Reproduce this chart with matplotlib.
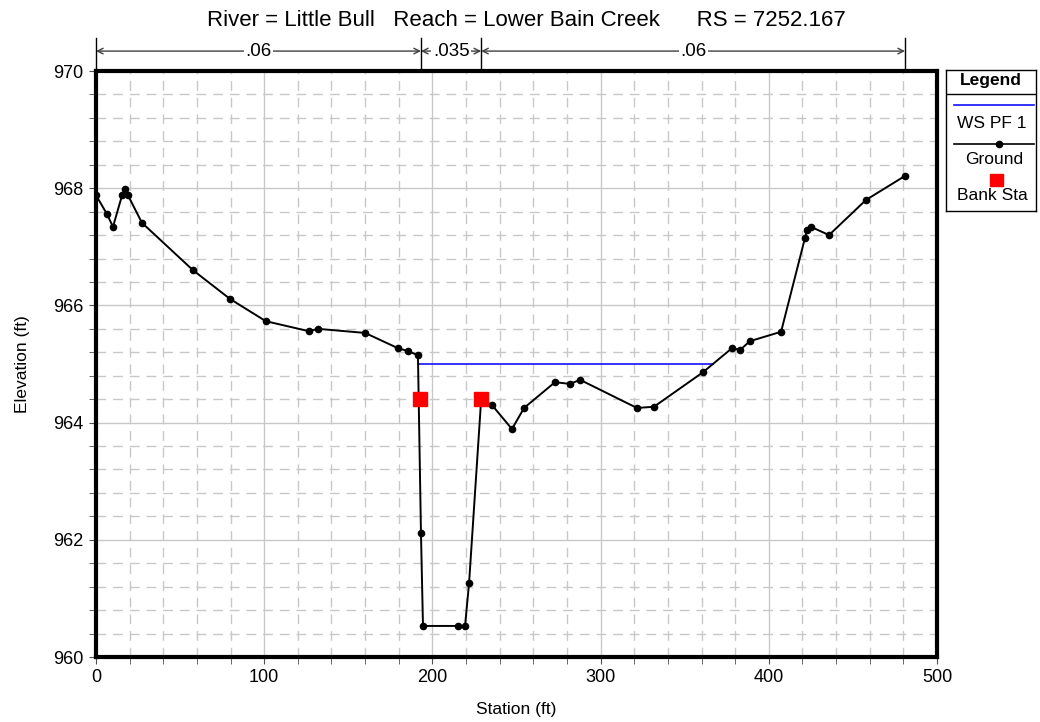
import matplotlib
matplotlib.use("Agg")
import matplotlib.pyplot as plt
from matplotlib.patches import Rectangle
from matplotlib.ticker import MultipleLocator
import matplotlib.transforms as mtransforms

plt.rcParams['font.family'] = ['Liberation Sans', 'DejaVu Sans']

# ground profile (station ft, elevation ft)
station = [0, 6.5, 10.1, 15.5, 17.2, 19, 27.3, 57.7, 79.7, 101, 126.6, 132, 160,
           179.5, 185.5, 191.4, 193.2, 194.4, 215.2, 219.4, 221.8, 229, 235.4,
           247.3, 254.5, 272.9, 281.8, 287.8, 321.6, 331.7, 360.9, 378.1, 382.9,
           388.8, 407.3, 421.5, 422.7, 425.1, 435.8, 457.8, 481]
elevation = [967.88, 967.56, 967.34, 967.88, 967.99, 967.88, 967.41, 966.60, 966.11,
             965.73, 965.56, 965.60, 965.53, 965.27, 965.22, 965.15, 962.12, 960.53,
             960.53, 960.53, 961.26, 964.40, 964.30, 963.89, 964.25, 964.69, 964.66,
             964.73, 964.25, 964.27, 964.86, 965.27, 965.24, 965.39, 965.55, 967.15,
             967.29, 967.34, 967.20, 967.80, 968.21]

ws_station = [192.0, 366.8]
ws_elev = [965.0, 965.0]

bank_station = [192.5, 229]
bank_elev = [964.40, 964.40]

n_breaks = [0, 193.2, 229, 481]
n_values = [".06", ".035", ".06"]

fig = plt.figure(figsize=(10.4, 7.22), dpi=100)
ax = fig.add_axes([96 / 1040, 65 / 722, 841 / 1040, 586 / 722])

ax.set_xlim(0, 500)
ax.set_ylim(960, 970)
ax.xaxis.set_major_locator(MultipleLocator(100))
ax.xaxis.set_minor_locator(MultipleLocator(20))
ax.yaxis.set_major_locator(MultipleLocator(2))
ax.yaxis.set_minor_locator(MultipleLocator(0.4))
ax.grid(which='major', color='#c8c8c8', linewidth=1.0, linestyle='-')
ax.grid(which='minor', color='#c8c8c8', linewidth=1.0, linestyle=(0, (7, 5)))
ax.set_axisbelow(True)
ax.tick_params(which='both', direction='out', labelsize=13, color='#505050')
ax.tick_params(which='major', length=5, pad=4)
ax.tick_params(which='minor', length=5)
for s in ax.spines.values():
    s.set_linewidth(3)

ax.plot(ws_station, ws_elev, color='#1010ff', linewidth=1.2, zorder=3)
ax.plot(station, elevation, color='black', linewidth=1.4, marker='o',
        markersize=4.5, zorder=4)
ax.plot(bank_station, bank_elev, linestyle='none', marker='s', color='red',
        markersize=10.5, zorder=5)

ax.set_xlabel("Station (ft)", fontsize=12.5, labelpad=11)
ax.set_ylabel("Elevation (ft)", fontsize=12.5, labelpad=17)

fig.text(526 / 1040, 1 - 20 / 722,
         "River = Little Bull   Reach = Lower Bain Creek      RS = 7252.167",
         ha='center', va='center', fontsize=16)

# manning n regions above the plot
trans = mtransforms.blended_transform_factory(ax.transData, ax.transAxes)
for b in n_breaks:
    ax.plot([b, b], [1.0, 1.056], transform=trans, color='black',
            linewidth=1, clip_on=False)
for i, lab in enumerate(n_values):
    x0, x1 = n_breaks[i], n_breaks[i + 1]
    ax.annotate("", xy=(x0, 1.034), xytext=(x1, 1.034), xycoords=trans,
                textcoords=trans,
                arrowprops=dict(arrowstyle='<->', color='#404040', lw=1,
                                shrinkA=0, shrinkB=0))
    ax.text((x0 + x1) / 2, 1.034, lab, transform=trans, ha='center',
            va='center', fontsize=13.5,
            bbox=dict(facecolor='white', edgecolor='none', pad=1))

# legend box
lg = fig.add_axes([946 / 1040, 1 - 211 / 722, 90 / 1040, 141 / 722])
lg.set_xlim(0, 90)
lg.set_ylim(141, 0)
lg.set_xticks([])
lg.set_yticks([])
for s in lg.spines.values():
    s.set_linewidth(1)
lg.text(45, 11, "Legend", ha='center', va='center', fontsize=12.5,
        fontweight='bold')
lg.plot([0, 90], [24, 24], color='black', linewidth=1)
lg.plot([8, 88], [35, 35], color='#1010ff', linewidth=1.2)
lg.text(46, 53, "WS PF 1", ha='center', va='center', fontsize=12.5)
lg.plot([8, 88], [74, 74], color='black', linewidth=1.2)
lg.plot([53], [74], marker='o', color='black', markersize=4.5)
lg.text(48, 90, "Ground", ha='center', va='center', fontsize=12.5)
lg.add_patch(Rectangle((43.5, 104), 13, 12, color='red'))
lg.text(46, 125, "Bank Sta", ha='center', va='center', fontsize=12.5)

fig.savefig("out.png", dpi=100)
